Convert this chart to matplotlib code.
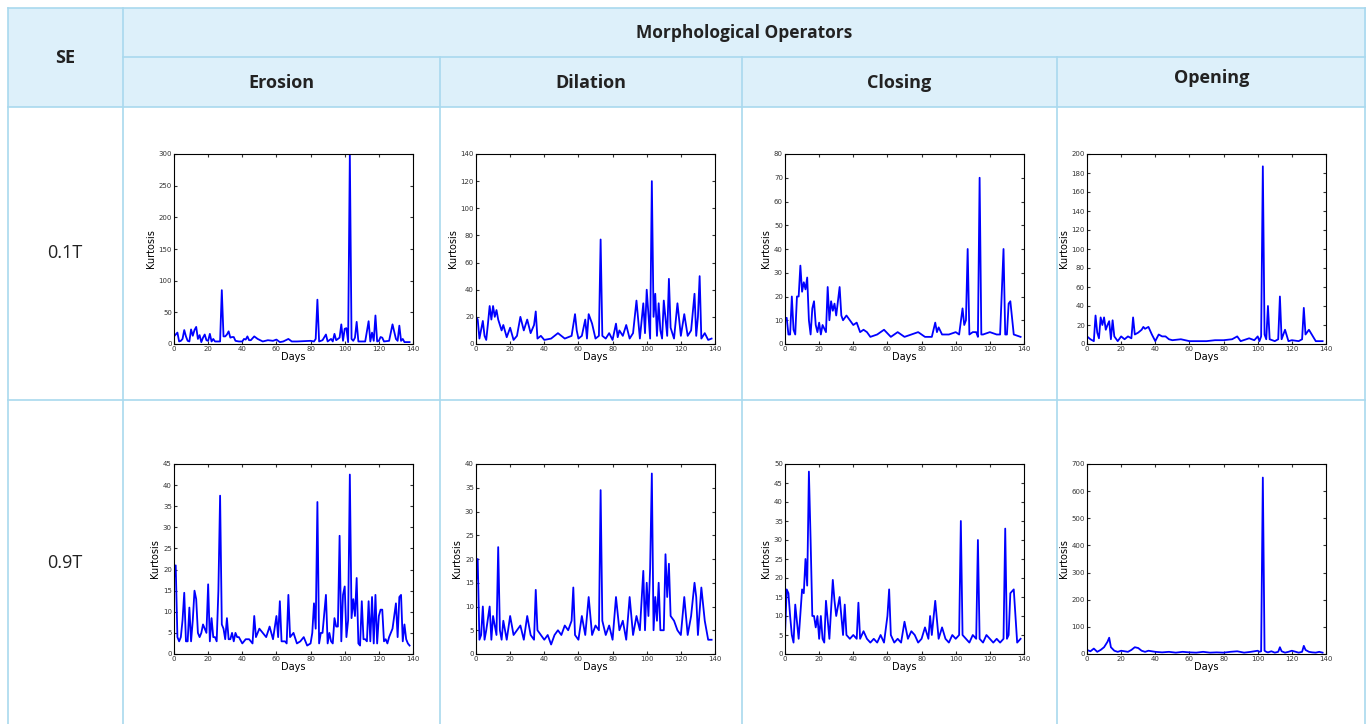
import matplotlib
matplotlib.use("Agg")
import matplotlib.pyplot as plt
from matplotlib.patches import Rectangle

W, H = 1366, 724
row_labels = ["0.1T", "0.9T"]
col_labels = ["Erosion", "Dilation", "Closing", "Opening"]
super_header = "Morphological Operators"
se_header = "SE"

# (days, kurtosis)
ero1_d = [0,1,2,3,4,5,6,7,8,9,10,11,12,13,14,15,16,17,18,19,20,21,22,23,24,26,27,28,29,30,31,32,33,34,35,36,38,40,41,42,43,44,45,47,49,52,55,58,60,62,64,67,69,72,80,82,83,84,85,87,89,90,92,93,94,95,97,98,99,100,101,102,103,104,105,106,107,108,110,112,114,115,116,117,118,119,120,121,122,123,126,128,130,131,132,133,134,135,138]
ero1_v = [12,15,18,4,5,8,22,12,5,4,23,13,22,27,8,14,3,10,15,6,5,16,4,8,4,4,4,85,12,12,15,20,10,11,11,5,4,4,8,7,12,6,6,12,8,4,6,5,7,3,4,8,4,4,5,4,8,70,4,6,15,4,8,4,16,6,10,31,5,24,25,3,300,8,5,10,35,4,4,4,36,4,18,5,45,4,5,11,10,4,5,31,8,5,29,5,8,3,3]
ero9_d = [0,1,2,3,4,5,6,7,8,9,10,11,12,13,14,15,16,17,18,19,20,21,22,23,24,25,26,27,28,29,30,31,32,33,34,35,36,37,38,40,42,44,46,47,48,50,52,54,56,58,60,61,62,63,64,65,66,67,68,70,72,74,76,78,80,81,82,83,84,85,86,87,89,90,91,92,93,94,95,96,97,98,99,100,101,102,103,104,105,106,107,108,109,110,111,112,113,114,115,116,117,118,119,120,121,122,123,124,125,126,128,130,131,132,133,134,135,136,137,138]
ero9_v = [18,21,4,3,4,8,14.5,3,3,11,3,8,15,13,5,4,5,7,6,5,16.5,3,8.5,4,4,3,15,37.5,7,6,3.5,8.5,3.5,3.5,5,3,5,4,4,2.5,3.5,3.5,2.5,9,4,6,5,4,6.5,3.5,9,4,12.5,3,3,3,2.5,14,4,5,2.5,3,4,2,2.5,5,12,6,36,2.5,5,5,14,2.5,5,3,2.5,8.5,6.5,6.5,28,3,14,16,4,8,42.5,8.5,13,9,18,2.5,2,12.5,3.5,3.5,3,12.5,3,13.5,2.5,14,2.5,9,10.5,10.5,3,3.5,2.5,4,6,12,4,13.5,14,3,7,3.5,2.5,2,2,4]
dil1_d = [0,1,2,4,5,6,7,8,9,10,11,12,13,15,16,18,20,22,24,26,28,30,32,34,35,36,38,40,44,48,52,56,58,59,60,62,64,65,66,68,70,72,73,74,76,78,80,82,83,84,86,88,90,92,94,96,98,99,100,102,103,104,105,106,107,108,109,110,112,113,114,116,118,120,122,124,126,128,129,130,131,132,134,136,138]
dil1_v = [20,18,4,17,6,3,15,28,18,28,20,25,18,10,14,5,12,3,6,20,10,18,8,14,24,4,6,3,4,8,4,6,22,10,4,6,18,4,22,15,4,6,77,6,4,8,3,15,5,10,6,14,4,8,32,4,30,8,40,4,120,20,37,6,30,10,4,32,6,48,12,4,30,6,22,6,10,37,6,20,50,4,8,3,4]
clo1_d = [0,1,2,3,4,5,6,7,8,9,10,11,12,13,14,15,16,17,18,19,20,21,22,24,25,26,27,28,29,30,32,33,34,36,38,40,42,44,46,48,50,54,58,62,66,70,74,78,82,86,88,89,90,92,96,100,102,104,105,106,107,108,110,112,113,114,115,116,120,124,126,128,129,130,131,132,134,138]
clo1_v = [11,11,4,4,20,6,4,20,20,33,22,26,23,28,10,4,15,18,8,5,9,4,8,5,24,10,18,14,17,12,24,12,10,12,10,8,9,5,6,5,3,4,6,3,5,3,4,5,3,3,9,5,7,4,4,5,4,15,8,10,40,4,5,5,3,70,4,4,5,4,4,40,4,4,17,18,4,3]
ope1_d = [0,2,4,5,6,7,8,9,10,11,12,13,14,15,16,18,20,22,24,26,27,28,30,32,33,34,36,38,40,42,44,46,48,50,55,60,65,70,75,80,85,88,90,95,98,100,101,102,103,104,105,106,107,110,112,113,114,116,118,120,124,126,127,128,130,134,138]
ope1_v = [8,5,3,30,12,6,28,20,28,15,20,24,5,25,8,3,8,5,8,6,28,10,12,15,18,16,18,10,3,10,8,8,5,4,5,3,3,3,4,4,5,8,3,6,4,8,3,8,187,10,5,40,5,3,5,50,5,15,3,4,3,5,38,10,15,3,3]
dil9_d = [0,1,2,3,4,5,6,8,9,10,12,13,14,15,16,18,20,22,24,26,28,30,32,34,35,36,38,40,42,44,46,48,50,52,54,56,57,58,60,62,64,66,68,70,72,73,74,76,78,80,82,84,86,88,90,92,94,96,98,99,100,101,102,103,104,105,106,107,108,110,111,112,113,114,116,118,120,122,124,126,128,129,130,132,134,136,138]
dil9_v = [15,20,3,4,10,3,5,10,3,8,4,22.5,5,3,7,3,8,4,5,6,3,8,4,3,13.5,5,4,3,4,2,4,5,4,6,5,7,14,4,3,8,4,12,4,6,5,34.5,7,4,6,3,12,5,7,3,12,4,8,5,17.5,5,15,8,18,38,5,12,7,15,5,5,21,12,19,8,7,5,4,12,4,8,15,12,4,14,7,3,3]
clo9_d = [0,1,2,3,4,5,6,8,10,11,12,13,14,15,16,17,18,19,20,21,22,23,24,25,26,28,29,30,32,34,35,36,38,40,42,43,44,46,48,50,52,54,56,58,60,61,62,64,66,68,70,72,74,76,78,80,82,84,85,86,88,90,92,94,96,98,100,102,103,104,106,108,110,112,113,114,116,118,120,122,124,126,128,129,130,131,132,134,136,138]
clo9_v = [5,17,16,10,5,3,13,4,17,16,25,18,48,30,10,10,7,10,4,10,4,3,14,9,4,19.5,14,10,15,5,13,5,4,5,4,13.5,4,6,4,3,4,3,5,3,10,17,5,3,4,3,8.5,4,6,5,3,4,7,4,10,5,14,4,7,4,3,5,4,5,35,5,4,3,5,4,30,4,3,5,4,3,4,3,4,33,4,5,16,17,3,4,3]
ope9_d = [0,2,4,6,8,10,12,13,14,16,18,20,24,26,28,30,32,34,36,40,44,48,52,56,60,64,68,72,76,80,84,88,92,96,100,101,102,103,104,105,106,108,110,112,113,114,116,118,120,124,126,127,128,130,132,134,136,138]
ope9_v = [15,10,20,8,15,25,45,60,25,12,8,12,8,15,25,22,12,8,12,8,6,8,5,8,6,5,8,5,6,5,8,10,5,8,12,8,10,650,12,8,6,10,5,8,25,10,5,8,12,5,8,30,15,8,6,5,8,5]

series = [[(ero1_d, ero1_v, 300, 50), (dil1_d, dil1_v, 140, 20), (clo1_d, clo1_v, 80, 10), (ope1_d, ope1_v, 200, 20)],
          [(ero9_d, ero9_v, 45, 5), (dil9_d, dil9_v, 40, 5), (clo9_d, clo9_v, 50, 5), (ope9_d, ope9_v, 700, 100)]]

fig = plt.figure(figsize=(W/100, H/100), dpi=100)
fig.patch.set_facecolor("white")

def fx(x): return x / W
def fy(y): return 1 - y / H

col_x = [8, 123, 440, 742, 1057, 1366]
border = "#a9d9ee"
head_bg = "#ddf0fa"

bg = fig.add_axes([0, 0, 1, 1]); bg.set_xlim(0, W); bg.set_ylim(H, 0); bg.axis("off")
bg.add_patch(Rectangle((8, 8), W - 8, 99, facecolor=head_bg, edgecolor="none"))
lw = 1.2
bg.plot([8, W], [8, 8], color=border, lw=lw)
bg.plot([123, W], [57, 57], color=border, lw=lw)
bg.plot([8, W], [107, 107], color=border, lw=lw)
bg.plot([8, W], [400, 400], color=border, lw=lw)
for x in [8, 123, W - 1]:
    bg.plot([x, x], [8, H], color=border, lw=lw)
for x in col_x[2:5]:
    bg.plot([x, x], [57, H], color=border, lw=lw)

tc = "#222222"
bg.text(65, 58, se_header, ha="center", va="center", fontsize=13, fontweight="bold", color=tc, family="Open Sans")
bg.text(744, 33, super_header, ha="center", va="center", fontsize=12.5, fontweight="bold", color=tc, family="Open Sans")
for i, c in enumerate(col_labels):
    yy = 78 if c == "Opening" else 83
    bg.text((col_x[i+1] + col_x[i+2]) / 2, yy, c, ha="center", va="center", fontsize=13, fontweight="bold", color=tc, family="Open Sans")
for r, lab in enumerate(row_labels):
    bg.text(65, [253, 563][r], lab, ha="center", va="center", fontsize=13, color=tc, family="Open Sans")

ax_x = [174, 476, 785, 1087]
ax_y = [154, 464]
aw, ah = 239, 190
for r in range(2):
    for c in range(4):
        d, v, ymax, step = series[r][c]
        n = min(len(d), len(v))
        ax = fig.add_axes([fx(ax_x[c]), fy(ax_y[r] + ah), aw / W, ah / H])
        ax.plot(d[:n], v[:n], color="#0000ff", lw=1.3)
        ax.set_xlim(0, 140); ax.set_ylim(0, ymax)
        ax.set_xticks(range(0, 141, 20))
        ax.set_yticks([step * k for k in range(int(ymax / step) + 1)])
        ax.tick_params(direction="in", top=True, right=True, labelsize=5, length=2, pad=1.5, colors="#333333")
        ax.set_xlabel("Days", fontsize=7, labelpad=0)
        ax.set_ylabel("Kurtosis", fontsize=7, labelpad=2)
        for s in ax.spines.values():
            s.set_linewidth(0.8)

fig.savefig("out.png", dpi=100)
